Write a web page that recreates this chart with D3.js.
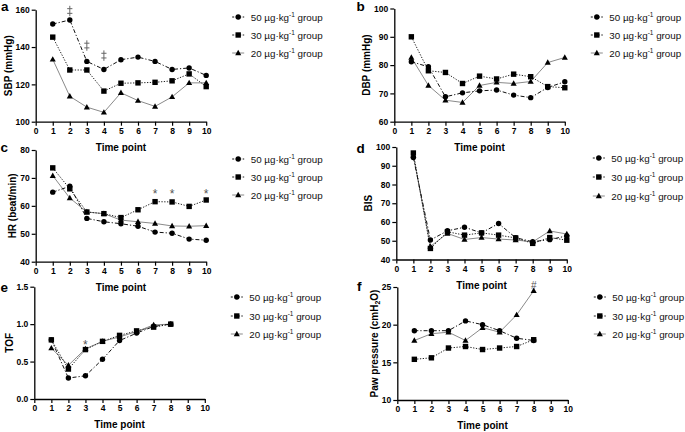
<!DOCTYPE html>
<html>
<head>
<meta charset="utf-8">
<script src="https://cdn.jsdelivr.net/npm/d3@7/dist/d3.min.js"></script>
<style>
  html, body { margin: 0; padding: 0; background: #fff; }
  svg { display: block; }
  text { font-family: "Liberation Sans", Arial, Helvetica, sans-serif; }
</style>
</head>
<body>
<svg id="chart" width="685" height="432"></svg>
<script>
// ---------------- DATA ----------------
const timePoints10 = [1, 2, 3, 4, 5, 6, 7, 8, 9, 10];
const timePoints8 = [1, 2, 3, 4, 5, 6, 7, 8];
const xTicks = [0, 1, 2, 3, 4, 5, 6, 7, 8, 9, 10];
const groupNames = ["50", "30", "20"];

// a: SBP (mmHg)
const sbp50 = [152.3, 154.5, 132.3, 128.0, 133.2, 134.6, 132.3, 128.0, 128.8, 124.8];
const sbp30 = [145.3, 127.7, 127.7, 116.4, 120.6, 120.8, 121.1, 121.9, 125.6, 118.8];
const sbp20 = [133.4, 113.6, 107.8, 105.0, 115.5, 111.3, 108.2, 113.3, 120.8, 120.8];
const sbpTicks = [100, 120, 140, 160];

// b: DBP (mmHg)
const dbp50 = [81.2, 79.4, 68.8, 70.2, 70.9, 71.2, 69.4, 68.5, 72.1, 74.1];
const dbp30 = [90.0, 78.0, 77.4, 73.5, 76.1, 75.1, 76.8, 75.9, 72.4, 72.0];
const dbp20 = [82.7, 72.8, 67.6, 66.8, 72.8, 73.9, 73.5, 74.2, 80.9, 82.7];
const dbpTicks = [60, 70, 80, 90, 100];

// c: HR (beat/min)
const hr50 = [64.9, 67.0, 55.5, 54.3, 53.6, 52.7, 50.6, 50.2, 48.1, 47.7];
const hr30 = [73.6, 66.1, 57.8, 57.2, 55.8, 58.6, 61.5, 61.4, 59.8, 62.1];
const hr20 = [70.8, 62.8, 57.8, 57.2, 54.9, 54.3, 53.7, 52.8, 52.7, 52.9];
const hrTicks = [40, 50, 60, 70, 80];

// d: BIS
const bis50 = [94.4, 50.4, 55.3, 57.2, 54.2, 59.2, 51.6, 49.5, 50.6, 52.6];
const bis30 = [96.8, 45.9, 54.8, 53.0, 54.2, 53.0, 51.5, 48.6, 51.7, 50.3];
const bis20 = [95.6, 47.0, 53.9, 50.7, 51.7, 50.9, 50.4, 49.4, 55.2, 53.6];
const bisTicks = [40, 50, 60, 70, 80, 90, 100];

// e: TOF
const tof50 = [0.79, 0.28, 0.31, 0.53, 0.78, 0.88, 0.97, 1.0];
const tof30 = [0.79, 0.40, 0.66, 0.77, 0.85, 0.91, 0.96, 1.0];
const tof20 = [0.68, 0.45, 0.67, 0.77, 0.83, 0.90, 0.99, 1.0];
const tofTicks = [0.0, 0.5, 1.0, 1.5];

// f: Paw pressure (cmH2O)
const paw50 = [19.2, 19.2, 19.2, 20.5, 20.0, 19.2, 18.2, 17.9];
const paw30 = [15.4, 15.6, 16.9, 17.1, 16.7, 16.9, 17.1, 18.0];
const paw20 = [17.9, 18.8, 19.0, 17.9, 19.6, 19.0, 21.3, 24.5];
const pawTicks = [10, 15, 20, 25];

// significance marks [time point, value, symbol]
const sbpMarks = [[2, 159.3, "‡"], [3, 140.8, "‡"], [4, 135.4, "‡"]];
const hrMarks = [[7, 65.4, "*"], [8, 65.4, "*"], [10, 65.4, "*"]];
const tofMarks = [[3, 0.765, "*"]];
const pawMarks = [[8, 25.2, "#"]];

// ---------------- STYLE / LAYOUT ----------------
const seriesStyle = [
  { marker: "circle",   stroke: "#111", dash: "4,2,1.2,2", width: 1 },
  { marker: "square",   stroke: "#222", dash: "1.3,1.5",   width: 1 },
  { marker: "triangle", stroke: "#8a8a8a", dash: null,     width: 1 }
];

const panels = [
  { letter: "a", title: "SBP (mmHg)", x0: 35.7, top: 9.7, bottom: 121.7, domain: [100, 160], ticks: sbpTicks, fmt: d3.format("d"),
    xs: timePoints10, series: [sbp50, sbp30, sbp20], marks: sbpMarks, legendY: [17, 35, 53], letterPos: [1, 10.7] },
  { letter: "b", title: "DBP (mmHg)", x0: 394.3, top: 8.5, bottom: 121.7, domain: [60, 100], ticks: dbpTicks, fmt: d3.format("d"),
    xs: timePoints10, series: [dbp50, dbp30, dbp20], marks: [], legendY: [17, 35, 53], letterPos: [356.5, 10.7] },
  { letter: "c", title: "HR (beat/min)", x0: 35.7, top: 150, bottom: 261.7, domain: [40, 80], ticks: hrTicks, fmt: d3.format("d"),
    xs: timePoints10, series: [hr50, hr30, hr20], marks: hrMarks, legendY: [159, 177, 195], letterPos: [0.5, 152] },
  { letter: "d", title: "BIS", x0: 396.3, top: 147, bottom: 259.5, domain: [40, 100], ticks: bisTicks, fmt: d3.format("d"),
    xs: timePoints10, series: [bis50, bis30, bis20], marks: [], legendY: [158, 177, 196], letterPos: [356.5, 152.5] },
  { letter: "e", title: "TOF", x0: 34.3, top: 286.7, bottom: 399, domain: [0, 1.5], ticks: tofTicks, fmt: d3.format(".1f"),
    xs: timePoints8, series: [tof50, tof30, tof20], marks: tofMarks, legendY: [297, 316, 334], letterPos: [0.5, 291.5] },
  { letter: "f", title: "Paw", x0: 397.3, top: 287, bottom: 400, domain: [10, 25], ticks: pawTicks, fmt: d3.format("d"),
    xs: timePoints8, series: [paw50, paw30, paw20], marks: pawMarks, legendY: [297, 316, 334], letterPos: [357, 290.7] }
];
const plotWidth = 170.5;

const svg = d3.select("#chart");

function drawMarker(g, type, x, y) {
  if (type === "circle") {
    g.append("circle").attr("cx", x).attr("cy", y).attr("r", 2.7).attr("fill", "#000");
  } else if (type === "square") {
    g.append("rect").attr("x", x - 2.7).attr("y", y - 2.7).attr("width", 5.4).attr("height", 5.4).attr("fill", "#000");
  } else {
    const s = 3.2;
    g.append("path").attr("d", `M${x},${y - s}L${x + s * 0.95},${y + s * 0.7}L${x - s * 0.95},${y + s * 0.7}Z`).attr("fill", "#000");
  }
}

panels.forEach(p => {
  const g = svg.append("g");
  const x = d3.scaleLinear().domain([0, 10]).range([p.x0, p.x0 + plotWidth]);
  const y = d3.scaleLinear().domain(p.domain).range([p.bottom, p.top]);

  // axes
  const xAxis = g.append("g").attr("transform", `translate(0,${p.bottom})`)
    .call(d3.axisBottom(x).tickValues(xTicks).tickSize(4).tickSizeOuter(0).tickPadding(2).tickFormat(d3.format("d")));
  const yAxis = g.append("g").attr("transform", `translate(${p.x0},0)`)
    .call(d3.axisLeft(y).tickValues(p.ticks).tickSize(4).tickSizeOuter(0).tickPadding(2).tickFormat(p.fmt));
  [xAxis, yAxis].forEach(a => {
    a.select(".domain").attr("stroke", "#000").attr("stroke-width", 1.3);
    a.selectAll(".tick line").attr("stroke", "#000").attr("stroke-width", 1.2);
    a.selectAll(".tick text").attr("fill", "#000").style("font-size", "8.5px").style("font-weight", "bold")
      .style("font-family", '"Liberation Sans", Arial, sans-serif');
  });

  // x title
  g.append("text").attr("x", (p.x0 + p.x0 + plotWidth) / 2).attr("y", p.bottom + 29)
    .attr("text-anchor", "middle").style("font-size", "10px").style("font-weight", "bold").text("Time point");

  // y title
  const bb = yAxis.node().getBBox();
  const tx = p.x0 + bb.x - 7.5;
  const ty = (p.top + p.bottom) / 2;
  const yt = g.append("text").attr("transform", `translate(${tx},${ty}) rotate(-90)`)
    .attr("text-anchor", "middle").attr("dy", "0.36em").style("font-size", "10px").style("font-weight", "bold");
  if (p.title === "Paw") {
    yt.append("tspan").text("Paw pressure (cmH");
    yt.append("tspan").attr("dy", 2.5).style("font-size", "7px").text("2");
    yt.append("tspan").attr("dy", -2.5).text("O)");
  } else {
    yt.text(p.title);
  }

  // panel letter
  g.append("text").attr("x", p.letterPos[0]).attr("y", p.letterPos[1])
    .style("font-size", "13.5px").style("font-weight", "bold").text(p.letter);

  // series: draw from back to front (triangle, square, circle)
  [2, 1, 0].forEach(si => {
    const st = seriesStyle[si];
    const vals = p.series[si];
    const pts = p.xs.map((t, i) => [t, vals[i]]);
    const line = d3.line().x(d => x(d[0])).y(d => y(d[1]));
    g.append("path").attr("d", line(pts)).attr("fill", "none")
      .attr("stroke", st.stroke).attr("stroke-width", st.width)
      .attr("stroke-dasharray", st.dash);
    const mg = g.append("g");
    pts.forEach(d => drawMarker(mg, st.marker, x(d[0]), y(d[1])));
  });

  // significance marks
  p.marks.forEach(m => {
    const sym = m[2];
    const cx = x(m[0]), cy = y(m[1]);
    if (sym === "‡") {
      // double dagger drawn as a glyph-like path (two stacked crosses)
      const h = 5.2, w = 2.6;
      g.append("path")
        .attr("d", `M${cx},${cy - h}V${cy + h}M${cx - w},${cy - h * 0.45}H${cx + w}M${cx - w},${cy + h * 0.45}H${cx + w}`)
        .attr("stroke", "#666").attr("stroke-width", 1).attr("fill", "none");
    } else {
      const fs = sym === "*" ? 12 : 10;
      const off = sym === "*" ? 0.58 : 0.36;
      g.append("text").attr("x", cx).attr("y", cy + off * fs)
        .attr("text-anchor", "middle").attr("fill", "#555")
        .style("font-size", fs + "px").text(sym);
    }
  });

  // legend
  groupNames.forEach((name, i) => {
    const st = seriesStyle[i];
    const ly = p.legendY[i];
    const lx = p.x0 + 202.5;
    g.append("line").attr("x1", lx - 6).attr("x2", lx + 6).attr("y1", ly).attr("y2", ly)
      .attr("stroke", st.stroke).attr("stroke-width", 1).attr("stroke-dasharray", st.dash ? "2,1.5" : null);
    drawMarker(g, st.marker, lx, ly);
    const t = g.append("text").attr("x", p.x0 + 215).attr("y", ly + 3.5)
      .style("font-size", "9.8px").attr("fill", "#111");
    t.append("tspan").text(name + " µg·kg");
    t.append("tspan").attr("dy", -4).style("font-size", "6.5px").text("-1");
    t.append("tspan").attr("dy", 4).text(" group");
  });
});
</script>
</body>
</html>
